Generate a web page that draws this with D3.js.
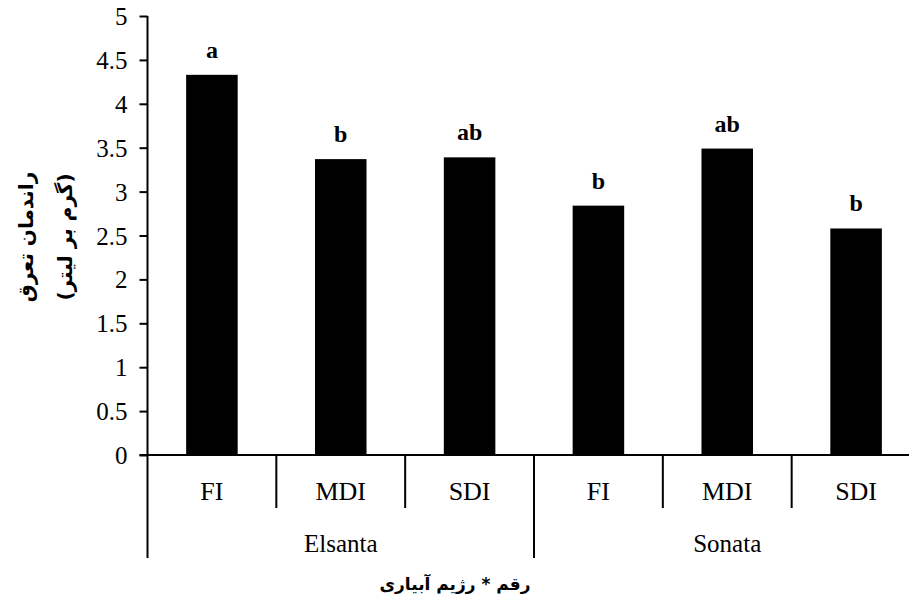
<!DOCTYPE html>
<html><head><meta charset="utf-8">
<script src="https://cdn.jsdelivr.net/npm/d3@7/dist/d3.min.js"></script>
<style>body{margin:0;background:#fff}svg{display:block}
.serif{font-family:"Liberation Serif","Times New Roman",serif;}
.fa{font-family:"DejaVu Sans",sans-serif;font-weight:bold;}
</style>
</head><body>
<svg id="c" width="909" height="604"></svg>
<script>
const groups = ["Elsanta", "Sonata"];
const treatments = ["FI", "MDI", "SDI"];
const values = [4.33, 3.37, 3.39, 2.84, 3.49, 2.58];
const letters = ["a", "b", "ab", "b", "ab", "b"];
const yTicks = [0, 0.5, 1, 1.5, 2, 2.5, 3, 3.5, 4, 4.5, 5];
const yTitle1 = "راندمان تعرق";
const yTitle2 = "(گرم بر لیتر)";
const xTitle = "رقم * رژیم آبیاری";

const cats = [];
groups.forEach(g => treatments.forEach(t => cats.push({g, t})));
const data = cats.map((c, i) => ({...c, key: c.g + "|" + c.t, v: values[i], l: letters[i]}));

const svg = d3.select("#c");
const x0 = 147.5, x1 = 920.5, yTop = 16, yBot = 455;
const x = d3.scaleBand().domain(data.map(d => d.key)).range([x0, x1]).padding(0);
const y = d3.scaleLinear().domain([0, 5]).range([yBot, yTop]);
const bw = x.bandwidth();

// bars
svg.selectAll("rect.bar").data(data).enter().append("rect")
  .attr("x", d => x(d.key) + bw * 0.3)
  .attr("width", bw * 0.4)
  .attr("y", d => y(d.v))
  .attr("height", d => y(0) - y(d.v))
  .attr("fill", "#000");

// letters
svg.selectAll("text.lab").data(data).enter().append("text")
  .attr("class", "serif")
  .attr("x", d => x(d.key) + bw / 2)
  .attr("y", d => y(d.v) - 17)
  .attr("text-anchor", "middle")
  .style("font-weight", "bold").style("font-size", "24px")
  .text(d => d.l);

// y axis
const yAxis = d3.axisLeft(y).tickValues(yTicks).tickSize(8).tickPadding(12).tickFormat(d3.format("~g"));
const gy = svg.append("g").attr("transform", `translate(${x0},0)`).call(yAxis);
gy.attr("font-family", null).attr("font-size", null);
gy.select(".domain").remove();
gy.selectAll(".tick line").attr("stroke", "#000").attr("stroke-width", 2);
gy.selectAll(".tick text").attr("class", "serif").style("font-size", "25px").attr("fill", "#000").attr("dy", "0.34em");

// axis lines
svg.append("line").attr("x1", x0).attr("x2", x0).attr("y1", yTop).attr("y2", 558).attr("stroke", "#000").attr("stroke-width", 2);
svg.append("line").attr("x1", x0 - 8).attr("x2", x1).attr("y1", yBot).attr("y2", yBot).attr("stroke", "#000").attr("stroke-width", 2);

// separators
data.forEach((d, i) => {
  if (i === 0) return;
  const isGroup = i % treatments.length === 0;
  svg.append("line").attr("x1", x(d.key)).attr("x2", x(d.key))
    .attr("y1", yBot).attr("y2", isGroup ? 558 : 508)
    .attr("stroke", "#000").attr("stroke-width", 2);
});
svg.append("line").attr("x1", x1).attr("x2", x1).attr("y1", yBot).attr("y2", 558).attr("stroke", "#000").attr("stroke-width", 2);

// treatment labels
svg.selectAll("text.tr").data(data).enter().append("text")
  .attr("class", "serif")
  .attr("x", d => x(d.key) + bw / 2).attr("y", 500)
  .attr("text-anchor", "middle").style("font-size", "26px")
  .text(d => d.t);

// group labels
groups.forEach(g => {
  const first = x(g + "|" + treatments[0]);
  const last = x(g + "|" + treatments[treatments.length - 1]) + bw;
  svg.append("text").attr("class", "serif").attr("x", (first + last) / 2).attr("y", 552)
    .attr("text-anchor", "middle").style("font-size", "25px")
    .text(g);
});

// titles
const yt = svg.append("g").attr("transform", "translate(0,237) rotate(-90)");
yt.append("text").attr("class", "fa").attr("x", 0).attr("y", 33).attr("text-anchor", "middle")
  .style("font-size", "20px").attr("direction", "rtl").text(yTitle1);
yt.append("text").attr("class", "fa").attr("x", 0).attr("y", 72).attr("text-anchor", "middle")
  .style("font-size", "20px").attr("direction", "rtl").text(yTitle2);
svg.append("text").attr("class", "fa").attr("x", 455).attr("y", 590).attr("text-anchor", "middle")
  .style("font-size", "17px").attr("direction", "rtl").text(xTitle);
</script>
</body></html>
